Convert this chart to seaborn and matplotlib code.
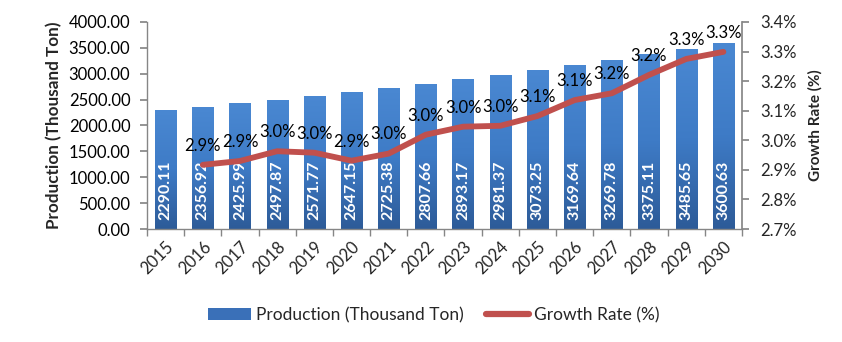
import numpy as np
import pandas as pd
import matplotlib
matplotlib.use("Agg")
import matplotlib.pyplot as plt
import seaborn as sns
from matplotlib.patches import Patch
from matplotlib.lines import Line2D
from matplotlib.colors import LinearSegmentedColormap
from matplotlib.ticker import FixedLocator

years = ["2015", "2016", "2017", "2018", "2019", "2020", "2021", "2022",
         "2023", "2024", "2025", "2026", "2027", "2028", "2029", "2030"]
production = [2290.11, 2356.92, 2425.99, 2497.87, 2571.77, 2647.15, 2725.38, 2807.66,
              2893.17, 2981.37, 3073.25, 3169.64, 3269.78, 3375.11, 3485.65, 3600.63]
growth_years = years[1:]
growth = [2.917, 2.930, 2.963, 2.958, 2.931, 2.955, 3.019, 3.046, 3.049,
          3.082, 3.136, 3.159, 3.221, 3.275, 3.299]
left_ticks = [0, 500, 1000, 1500, 2000, 2500, 3000, 3500, 4000]
right_ticks = [2.7, 2.8, 2.9, 3.0, 3.1, 3.2, 3.3, 3.4]

sns.set_theme(style="white")
plt.rcParams['font.family'] = ['Lato', 'DejaVu Sans']

BAR_COLOR = "#3a70b8"
LINE_COLOR = "#c0504d"
AX_COLOR = "#868686"
FS = 12

fig = plt.figure(figsize=(8.42, 3.42), dpi=100)
ax = fig.add_axes([0.1746, 0.3304, 0.8812 - 0.1746, 0.9357 - 0.3304])

df = pd.DataFrame({"year": years, "production": production})
sns.barplot(data=df, x="year", y="production", ax=ax, color=BAR_COLOR,
            width=0.57, saturation=1, edgecolor="none")

cmap = LinearSegmentedColormap.from_list("g", ["#2d5b98", "#3e7bc6", "#4a88d2"])
grad = np.linspace(0, 1, 256).reshape(-1, 1)
for p in ax.patches:
    x0, y0 = p.get_x(), p.get_y()
    w, h = p.get_width(), p.get_height()
    im = ax.imshow(grad, extent=[x0, x0 + w, y0, y0 + h], origin="lower",
                   cmap=cmap, aspect="auto", zorder=p.get_zorder() + 0.1)
    im.set_clip_path(p)
    ax.text(x0 + w / 2, y0 + 170, f"{h:.2f}", rotation=90, ha="center", va="bottom",
            color="white", fontsize=11.5, fontweight="bold", zorder=5)

ax.set_xlim(-0.5, len(years) - 0.5)
ax.set_ylim(0, 4000)
ax.yaxis.set_major_locator(FixedLocator(left_ticks))
ax.set_yticklabels([f"{v:.2f}" for v in left_ticks], fontsize=FS, color="#000000")
ax.set_xlabel("")
ax.set_ylabel("Production (Thousand Ton)", fontsize=12.3, fontweight="bold", labelpad=5)
ax.set_xticks(range(len(years)))
ax.set_xticklabels(years, rotation=45, ha="right", rotation_mode="anchor", fontsize=FS)
ax.set_xticks(np.arange(-0.5, len(years), 1.0), minor=True)
ax.tick_params(axis="x", which="major", length=0, pad=7)
ax.tick_params(axis="x", which="minor", length=5, color=AX_COLOR, direction="out", bottom=True)
ax.tick_params(axis="y", length=5, color=AX_COLOR, direction="out", left=True, pad=7)
for s in ["top", "right"]:
    ax.spines[s].set_visible(False)
for s in ["left", "bottom"]:
    ax.spines[s].set_color(AX_COLOR)
    ax.spines[s].set_linewidth(1)

ax2 = ax.twinx()
gdf = pd.DataFrame({"pos": [years.index(y) for y in growth_years], "growth": growth})
sns.lineplot(data=gdf, x="pos", y="growth", ax=ax2, color=LINE_COLOR, linewidth=4.2,
             solid_capstyle="round", solid_joinstyle="round", zorder=6)
for xp, g in zip(gdf["pos"], gdf["growth"]):
    ax2.annotate(f"{g:.1f}%", (xp, g), xytext=(0, 8), textcoords="offset points",
                 ha="center", va="bottom", fontsize=FS, color="#000000", zorder=7)
ax2.set_xlim(-0.5, len(years) - 0.5)
ax2.set_ylim(2.7, 3.4)
ax2.yaxis.set_major_locator(FixedLocator(right_ticks))
ax2.set_yticklabels([f"{v:.1f}%" for v in right_ticks], fontsize=FS)
ax2.set_ylabel("Growth Rate (%)", fontsize=11, fontweight="bold", labelpad=8)
ax2.set_xlabel("")
ax2.tick_params(axis="y", length=5, color=AX_COLOR, direction="out", right=True, pad=8)
for s in ["top", "left", "bottom"]:
    ax2.spines[s].set_visible(False)
ax2.spines["right"].set_color(AX_COLOR)

handles = [Patch(facecolor=BAR_COLOR, edgecolor="none"),
           Line2D([0], [0], color=LINE_COLOR, linewidth=4.5, solid_capstyle="round")]
fig.legend(handles, ["Production (Thousand Ton)", "Growth Rate (%)"],
           loc="center", bbox_to_anchor=(0.515, 0.078), ncol=2, frameon=False,
           fontsize=12.5, handlelength=2.5, handletextpad=0.25, columnspacing=1.3)

fig.savefig("out.png", dpi=100)
